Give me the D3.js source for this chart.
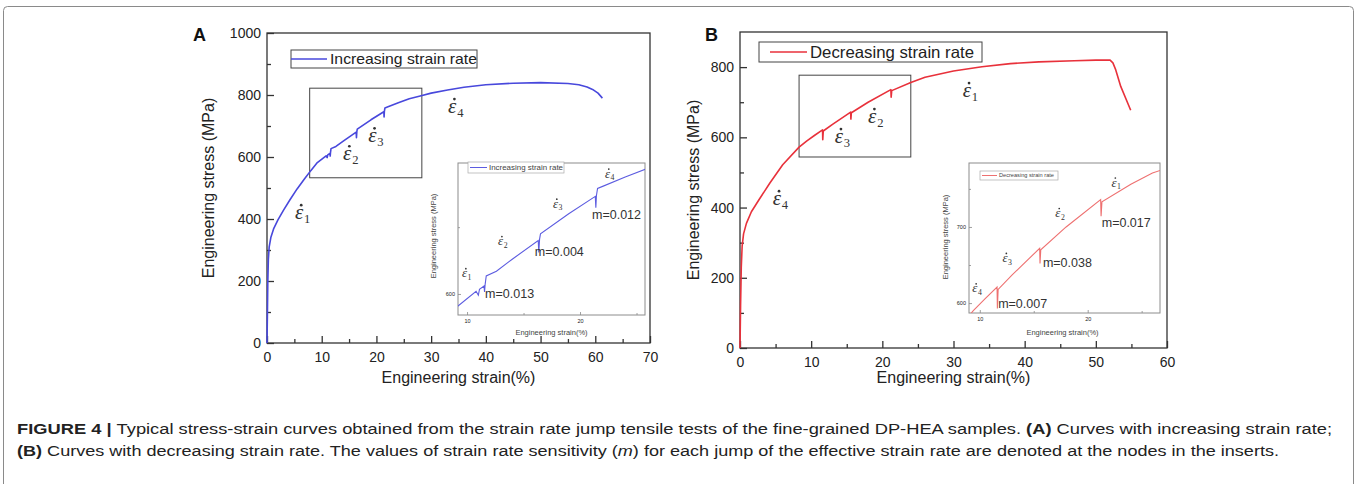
<!DOCTYPE html>
<html>
<head>
<meta charset="utf-8">
<script src="https://cdn.jsdelivr.net/npm/d3@7"></script>
<style>
  body { margin: 0; background: #fff; }
  svg { display: block; font-family: "Liberation Sans", Arial, sans-serif; }
</style>
</head>
<body>
<div id="chart-area"></div>
<script>
// ---- data: engineering strain (%) / engineering stress (MPa)
const strainA = [0, 0.08, 0.15, 0.25, 0.4, 0.7, 1.2, 2, 3, 4.2, 5.5, 6.8, 8, 9.2, 10.8, 11.0, 11.1, 11.5, 11.55, 11.6, 11.7,
  12.6, 14, 16.3, 16.35, 16.42, 16.5, 19, 21.35, 21.4, 21.45, 21.55, 22, 24, 26, 28, 30, 33, 36, 40, 45, 50, 55, 57, 58.5, 59.5, 60.5, 61.3];
const stressA = [0, 100, 200, 270, 310, 340, 368, 397, 428, 462, 497, 528, 556, 582, 604, 598, 607, 612, 603, 614, 627,
  634, 652, 680, 662, 682, 690, 720, 746, 729, 747, 758, 761, 775, 788, 797, 806, 816, 825, 833, 838, 840, 837, 833, 826, 818, 806, 790];

const strainB = [0, 0.08, 0.18, 0.3, 0.5, 0.9, 1.6, 2.6, 4.2, 6, 8.3, 9.4, 10.5, 11.6, 11.63, 11.7, 13, 15.55, 15.58, 15.65,
  18, 21.2, 21.24, 21.32, 24, 26, 30, 34, 38, 42, 47, 50, 52, 52.4, 52.8, 53.5, 54.9];
const stressB = [0, 120, 230, 290, 325, 355, 388, 420, 470, 522, 572, 590, 606, 621, 593, 618, 637, 672, 652, 670,
  700, 736, 714, 733, 756, 771, 789, 801, 810, 815, 818, 820, 820, 812, 792, 745, 677];

// strain rate markers (index, strain, stress)
const ratesA = [1, 2, 3, 4];
const rateStrainA = [5.1, 13.9, 18.5, 33.1];
const rateStressA = [400, 590, 648, 742];
const rateStrainInsetA = [9.55, 12.74, 17.6, 22.2];
const rateStressInsetA = [625, 673, 729, 774];

const ratesB = [4, 3, 2, 1];
const rateStrainB = [4.6, 13.3, 18.0, 31.3];
const rateStressB = [407, 584, 641, 715];
const rateStrainInsetB = [9.3, 12.1, 17.0, 22.2];
const rateStressInsetB = [614, 654, 713, 753];

// strain rate sensitivity at each jump
const mA = ["m=0.013", "m=0.004", "m=0.012"];
const mStrainA = [11.6, 16.0, 21.06];
const mStressA = [594, 657, 712];
const mB = ["m=0.007", "m=0.038", "m=0.017"];
const mStrainB = [11.7, 15.85, 21.3];
const mStressB = [593, 647, 700];

// tick values
const xTicksA = [0, 10, 20, 30, 40, 50, 60, 70];
const xMinorA = [5, 15, 25, 35, 45, 55, 65];
const yTicksA = [0, 200, 400, 600, 800, 1000];
const yMinorA = [100, 300, 500, 700, 900];
const xTicksB = [0, 10, 20, 30, 40, 50, 60];
const xMinorB = [5, 15, 25, 35, 45, 55];
const yTicksB = [0, 200, 400, 600, 800];
const yMinorB = [100, 300, 500, 700];

const width = 1357;
const height = 484;
const serif = "'Liberation Serif', 'Times New Roman', serif";

const svg = d3.select("#chart-area").append("svg").attr("width", width).attr("height", height);

// outer frame of the figure
svg.append("rect")
  .attr("x", 3.5).attr("y", 6.5).attr("width", 1350).attr("height", 520).attr("rx", 4)
  .attr("fill", "none").attr("stroke", "#8a8a8a").attr("stroke-width", 1);

const line = (x, y) => d3.line().x(d => x(d[0])).y(d => y(d[1]));

function rateLabel(g, px, py, n, size) {
  const t = g.append("text")
    .attr("x", px).attr("y", py)
    .attr("font-family", serif).attr("font-style", "italic")
    .attr("font-size", size).attr("fill", "#333");
  t.append("tspan").text("ε");
  t.append("tspan").attr("font-size", size * 0.6).attr("dy", size * 0.2).attr("dx", size * 0.04)
    .attr("font-style", "normal").text(n);
  g.append("circle")
    .attr("cx", px + size * 0.3).attr("cy", py - size * 0.66).attr("r", size * 0.065)
    .attr("fill", "#333");
}

function styleAxis(sel, fontSize, color) {
  sel.select(".domain").remove();
  sel.selectAll(".tick line").attr("stroke", color).attr("stroke-width", fontSize > 10 ? 1.3 : 0.8);
  sel.selectAll(".tick text").attr("font-size", fontSize).attr("fill", "#222")
    .attr("font-family", "'Liberation Sans', Arial, sans-serif");
}

function drawPanel(p) {
  const x = d3.scaleLinear().domain(p.xDomain).range([p.left, p.right]);
  const y = d3.scaleLinear().domain(p.yDomain).range([p.bottom, p.top]);
  const g = svg.append("g");

  // axes, ticks pointing inwards (Origin style)
  g.append("g").attr("transform", `translate(0, ${p.bottom})`)
    .call(d3.axisBottom(x).tickValues(p.xTicks).tickFormat(d3.format("d")).tickSizeInner(-7).tickSizeOuter(0).tickPadding(9))
    .call(s => styleAxis(s, 14, "#333"));
  g.append("g").attr("transform", `translate(0, ${p.bottom})`)
    .call(d3.axisBottom(x).tickValues(p.xMinor).tickSize(-4).tickFormat(""))
    .call(s => styleAxis(s, 14, "#333"));
  g.append("g").attr("transform", `translate(${p.left}, 0)`)
    .call(d3.axisLeft(y).tickValues(p.yTicks).tickFormat(d3.format("d")).tickSizeInner(-7).tickSizeOuter(0).tickPadding(6))
    .call(s => styleAxis(s, 14, "#333"));
  g.append("g").attr("transform", `translate(${p.left}, 0)`)
    .call(d3.axisLeft(y).tickValues(p.yMinor).tickSize(-4).tickFormat(""))
    .call(s => styleAxis(s, 14, "#333"));

  g.append("rect")
    .attr("x", p.left).attr("y", p.top).attr("width", p.right - p.left).attr("height", p.bottom - p.top)
    .attr("fill", "none").attr("stroke", "#333").attr("stroke-width", 1.3);

  // axis titles
  g.append("text")
    .attr("x", (p.left + p.right) / 2).attr("y", 383)
    .attr("text-anchor", "middle").attr("font-size", 16).attr("fill", "#222")
    .text("Engineering strain(%)");
  g.append("text")
    .attr("transform", `translate(${p.yTitleX}, ${(p.top + p.bottom) / 2}) rotate(-90)`)
    .attr("text-anchor", "middle").attr("font-size", 16).attr("fill", "#222")
    .text("Engineering stress (MPa)");

  // panel letter
  g.append("text")
    .attr("x", p.letterX).attr("y", 41)
    .attr("font-size", 18).attr("font-weight", "bold").attr("fill", "#111")
    .text(p.letter);

  // legend
  const lg = p.legend;
  g.append("rect")
    .attr("x", lg.x).attr("y", lg.y).attr("width", lg.w).attr("height", lg.h)
    .attr("fill", "#fff").attr("stroke", "#444").attr("stroke-width", 1);
  g.append("line")
    .attr("x1", lg.x + lg.pad).attr("x2", lg.x + lg.pad + lg.len)
    .attr("y1", lg.y + lg.h / 2).attr("y2", lg.y + lg.h / 2)
    .attr("stroke", p.color).attr("stroke-width", 1.5);
  g.append("text")
    .attr("x", lg.x + lg.pad + lg.len + 3).attr("y", lg.y + lg.h / 2 + lg.font * 0.36)
    .attr("font-size", lg.font).attr("fill", "#222")
    .attr("textLength", lg.textW).attr("lengthAdjust", "spacingAndGlyphs")
    .text(p.label);

  // zoomed region box
  g.append("rect")
    .attr("x", x(p.zoom[0])).attr("y", y(p.zoom[3]))
    .attr("width", x(p.zoom[1]) - x(p.zoom[0])).attr("height", y(p.zoom[2]) - y(p.zoom[3]))
    .attr("fill", "none").attr("stroke", "#444").attr("stroke-width", 1);

  // curve
  g.append("path")
    .datum(p.strain.map((s, i) => [s, p.stress[i]]))
    .attr("fill", "none").attr("stroke", p.color).attr("stroke-width", 1.6)
    .attr("stroke-linejoin", "round")
    .attr("d", line(x, y));

  p.rates.forEach((n, i) => rateLabel(g, x(p.rateStrain[i]), y(p.rateStress[i]), n, 21));

  drawInset(p.inset, p);
}

function drawInset(q, p) {
  const x = d3.scaleLinear().domain(q.xDomain).range([q.left, q.right]);
  const y = d3.scaleLinear().domain(q.yDomain).range([q.bottom, q.top]);
  const g = svg.append("g");
  const clipId = "clip-" + p.letter;

  g.append("rect")
    .attr("x", q.left).attr("y", q.top).attr("width", q.right - q.left).attr("height", q.bottom - q.top)
    .attr("fill", "#fff");
  g.append("clipPath").attr("id", clipId).append("rect")
    .attr("x", q.left).attr("y", q.top).attr("width", q.right - q.left).attr("height", q.bottom - q.top);

  g.append("g").attr("transform", `translate(0, ${q.bottom})`)
    .call(d3.axisBottom(x).tickValues(q.xTicks).tickSizeInner(-3).tickSizeOuter(0).tickPadding(4))
    .call(s => styleAxis(s, 5.5, "#888"));
  g.append("g").attr("transform", `translate(0, ${q.bottom})`)
    .call(d3.axisBottom(x).tickValues(q.xMinor).tickSize(-2).tickFormat(""))
    .call(s => styleAxis(s, 5.5, "#888"));
  g.append("g").attr("transform", `translate(${q.left}, 0)`)
    .call(d3.axisLeft(y).tickValues(q.yTicks).tickSizeInner(-3).tickSizeOuter(0).tickPadding(3))
    .call(s => styleAxis(s, 5.5, "#888"));
  g.append("g").attr("transform", `translate(${q.left}, 0)`)
    .call(d3.axisLeft(y).tickValues(q.yMinor).tickSize(-2).tickFormat(""))
    .call(s => styleAxis(s, 5.5, "#888"));

  g.append("rect")
    .attr("x", q.left).attr("y", q.top).attr("width", q.right - q.left).attr("height", q.bottom - q.top)
    .attr("fill", "none").attr("stroke", "#8c8c8c").attr("stroke-width", 1);

  g.append("text")
    .attr("x", (q.left + q.right) / 2 + q.xTitleShift).attr("y", 335)
    .attr("text-anchor", "middle").attr("font-size", 7.5).attr("fill", "#444")
    .text("Engineering strain(%)");
  g.append("text")
    .attr("transform", `translate(${q.yTitleX}, ${q.yTitleY}) rotate(-90)`)
    .attr("text-anchor", "middle").attr("font-size", 7.5).attr("fill", "#444")
    .text("Engineering stress (MPa)");

  // small legend
  const lg = q.legend;
  g.append("rect")
    .attr("x", lg.x).attr("y", lg.y).attr("width", lg.w).attr("height", lg.h)
    .attr("fill", "#fff").attr("stroke", "#aaa").attr("stroke-width", 0.7);
  g.append("line")
    .attr("x1", lg.x + 2).attr("x2", lg.x + 2 + lg.len)
    .attr("y1", lg.y + lg.h / 2).attr("y2", lg.y + lg.h / 2)
    .attr("stroke", q.color).attr("stroke-width", 1);
  g.append("text")
    .attr("x", lg.x + 4 + lg.len).attr("y", lg.y + lg.h / 2 + lg.font * 0.36)
    .attr("font-size", lg.font).attr("fill", "#444")
    .attr("textLength", lg.textW).attr("lengthAdjust", "spacingAndGlyphs")
    .text(p.label);

  g.append("path")
    .datum(p.strain.map((s, i) => [s, p.stress[i]]))
    .attr("clip-path", `url(#${clipId})`)
    .attr("fill", "none").attr("stroke", q.color).attr("stroke-width", 1.1)
    .attr("d", line(x, y));

  p.rates.forEach((n, i) => rateLabel(g, x(q.rateStrain[i]), y(q.rateStress[i]), n, 13));

  q.m.forEach((t, i) => {
    g.append("text")
      .attr("x", x(q.mStrain[i])).attr("y", y(q.mStress[i]))
      .attr("font-size", 12.5).attr("fill", "#333")
      .text(t);
  });
}

drawPanel({
  letter: "A", letterX: 193, label: "Increasing strain rate", color: "#4848dc",
  strain: strainA, stress: stressA,
  xDomain: [0, 70], yDomain: [0, 1000], left: 267, right: 650, top: 33, bottom: 343,
  xTicks: xTicksA, xMinor: xMinorA, yTicks: yTicksA, yMinor: yMinorA, yTitleX: 214,
  legend: { x: 291, y: 50, w: 186, h: 18, pad: 0, len: 36, font: 15, textW: 147 },
  zoom: [7.8, 28.3, 533, 822],
  rates: ratesA, rateStrain: rateStrainA, rateStress: rateStressA,
  inset: {
    xDomain: [9.2, 25.75], yDomain: [568.5, 796], left: 458, right: 645, top: 163, bottom: 315,
    xTicks: [10, 20], xMinor: [15, 25], yTicks: [600], yMinor: [700],
    xTitleShift: 0, yTitleX: 436, yTitleY: 236, color: "#5c5ce0",
    legend: { x: 468, y: 162, w: 96, h: 11, len: 17, font: 7, textW: 74 },
    rateStrain: rateStrainInsetA, rateStress: rateStressInsetA,
    m: mA, mStrain: mStrainA, mStress: mStressA
  }
});

drawPanel({
  letter: "B", letterX: 705, label: "Decreasing strain rate", color: "#e8313b",
  strain: strainB, stress: stressB,
  xDomain: [0, 60], yDomain: [0, 900], left: 740, right: 1167, top: 32, bottom: 348,
  xTicks: xTicksB, xMinor: xMinorB, yTicks: yTicksB, yMinor: yMinorB, yTitleX: 699,
  legend: { x: 759, y: 42, w: 223, h: 20, pad: 11, len: 37, font: 16.5, textW: 164 },
  zoom: [8.3, 24.0, 544, 777],
  rates: ratesB, rateStrain: rateStrainB, rateStress: rateStressB,
  inset: {
    xDomain: [9.0, 26.7], yDomain: [587, 784], left: 969, right: 1160, top: 163, bottom: 313,
    xTicks: [10, 20], xMinor: [15, 25], yTicks: [600, 700], yMinor: [650, 750],
    xTitleShift: -2, yTitleX: 948, yTitleY: 237, color: "#ee7070",
    legend: { x: 980, y: 171, w: 78, h: 9, len: 15, font: 5.5, textW: 55 },
    rateStrain: rateStrainInsetB, rateStress: rateStressInsetB,
    m: mB, mStrain: mStrainB, mStress: mStressB
  }
});

// caption
const cap1 = svg.append("text").attr("x", 17).attr("y", 434).attr("font-size", 15.5).attr("fill", "#222")
  .attr("textLength", 1315).attr("lengthAdjust", "spacingAndGlyphs");
cap1.append("tspan").attr("font-weight", "bold").text("FIGURE 4 | ");
cap1.append("tspan").text("Typical stress-strain curves obtained from the strain rate jump tensile tests of the fine-grained DP-HEA samples. ");
cap1.append("tspan").attr("font-weight", "bold").text("(A)");
cap1.append("tspan").text(" Curves with increasing strain rate;");

const cap2 = svg.append("text").attr("x", 17).attr("y", 456).attr("font-size", 15.5).attr("fill", "#222")
  .attr("textLength", 1262).attr("lengthAdjust", "spacingAndGlyphs");
cap2.append("tspan").attr("font-weight", "bold").text("(B)");
cap2.append("tspan").text(" Curves with decreasing strain rate. The values of strain rate sensitivity (");
cap2.append("tspan").attr("font-style", "italic").text("m");
cap2.append("tspan").text(") for each jump of the effective strain rate are denoted at the nodes in the inserts.");
</script>
</body>
</html>
